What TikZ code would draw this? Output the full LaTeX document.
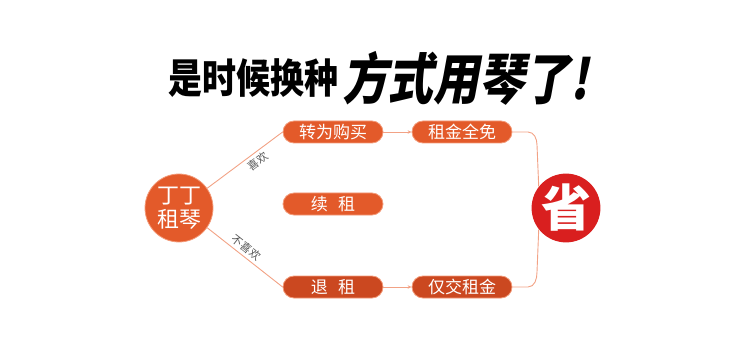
\documentclass[tikz,border=0pt]{standalone}
\usepackage{fontspec}
\newfontfamily\cjk{Noto Sans CJK SC}
\newfontfamily\cjkslant[FakeSlant=0.22]{Noto Sans CJK SC}
\usetikzlibrary{arrows.meta}
\definecolor{boxorange}{HTML}{E35A2A}
\definecolor{boxdark}{HTML}{CB4820}
\definecolor{boxedge}{HTML}{F39A78}
\definecolor{linkc}{HTML}{F2A285}
\definecolor{shengred}{HTML}{D91F1F}
\definecolor{labgray}{HTML}{555555}
\tikzset{
  pill/.style={rounded corners=11pt, minimum width=100pt, minimum height=22pt, inner sep=0pt,
    fill=boxorange, draw=boxedge, line width=0.8pt, text=white, font=\cjk\fontsize{17}{17}\selectfont},
  pilldark/.style={pill, fill=boxdark},
  link/.style={draw=linkc, line width=0.9pt},
  arr/.style={link, -{Stealth[length=4pt,width=3.5pt]}},
  lab/.style={text=labgray, font=\cjk\fontsize{11}{11}\selectfont, inner sep=1pt}
}
\begin{document}
\begin{tikzpicture}[x=1pt,y=-1pt]
\useasboundingbox (0,0) rectangle (750,342);
% title
\node[anchor=east, inner sep=0pt] (t1) at (339,78) {\scalebox{1}[1.2]{\cjk\bfseries\fontsize{34}{34}\selectfont 是时候换种}};
\node[anchor=west, inner sep=0pt] (t2) at (342,78) {\scalebox{0.95}[1.15]{\cjkslant\bfseries\fontsize{48}{48}\selectfont 方式用琴了!}};
% start circle
\node[circle, fill=boxorange, draw=boxedge, line width=0.8pt, minimum size=68pt, inner sep=0pt, text=white,
  align=center, font=\cjk\fontsize{22}{24}\selectfont] (start) at (179,208) {丁丁\\租琴};
% boxes
\node[pill] (buy) at (333,132) {转为购买};
\node[pill] (renew) at (333,204) {续\hspace{0.6em}租};
\node[pilldark] (ret) at (333,287) {退\hspace{0.6em}租};
\node[pill] (free) at (462,132) {租金全免};
\node[pilldark] (pay) at (462,287) {仅交租金};
% save circle
\node[circle, fill=shengred, minimum size=68pt, inner sep=0pt, text=white,
  font=\cjk\bfseries\fontsize{50}{50}\selectfont] (save) at (566,208) {省};
% connectors
\draw[link] (start.35) -- node[lab, sloped, below=2pt, pos=0.6] {喜欢} (buy.west);
\draw[link] (start.-35) -- node[lab, sloped, above=2pt, pos=0.45] {不喜欢} (ret.west);
\draw[arr] (buy.east) -- (free.west);
\draw[arr] (ret.east) -- (pay.west);
\coordinate (c1) at (537,145);
\coordinate (c2) at (537,272);
\draw[link] (free.east) -- (528,132) to[out=0,in=90] (c1) -- (save.142);
\draw[link] (pay.east) -- (528,287) to[out=0,in=-90] (c2) -- (save.-142);
\end{tikzpicture}
\end{document}
